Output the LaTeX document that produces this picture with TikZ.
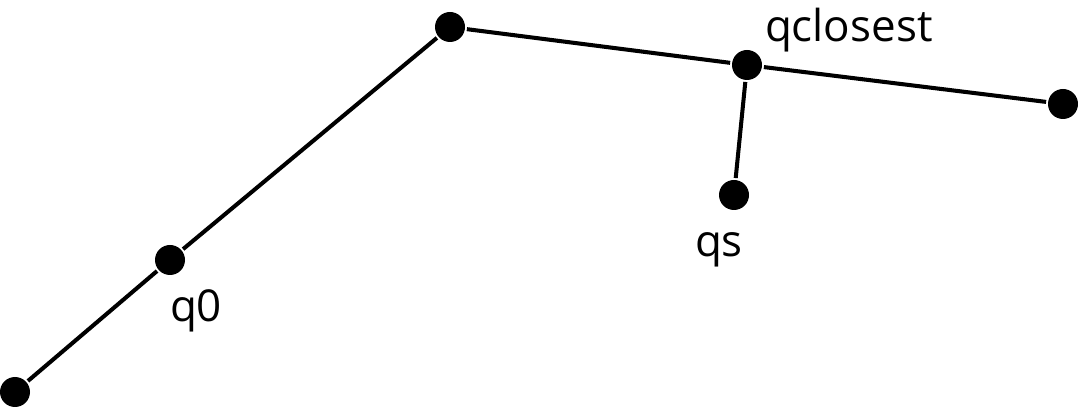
\documentclass[tikz,border=0pt]{standalone}
\usepackage{fontspec}
\setmainfont{Open Sans}
\usepackage{tikz}
\tikzset{dot/.style={circle, fill=black, inner sep=0pt, minimum size=0.6cm},
	lbl/.style={anchor=base west, inner sep=0pt, font=\fontsize{25}{30}\selectfont}}

\begin{document}
\begin{tikzpicture}[line width=2.3pt]
	\useasboundingbox (0,0) rectangle (21.56,8.14);
	
	\node[dot] (P) at (0.30,0.30) {};
	\node[dot] (Q0) at (3.40,2.94) {};
	\node[dot] (T) at (9.00,7.60) {};
	\node[dot] (QC) at (14.94,6.84) {};
	\node[dot] (E) at (21.26,6.06) {};
	\node[dot] (QS) at (14.68,4.24) {};
	
	\draw (P) -- (Q0);
	\draw (Q0) -- (T);
	\draw (T) -- (QC);
	\draw (QC) -- (E);
	\draw (QC) -- (QS);
	
	\node[lbl] (lq0) at (3.36,1.70) {q0};
	\node[lbl] (lqs) at (13.86,3.00) {qs};
	\node[lbl] (lqc) at (15.26,7.30) {qclosest};
\end{tikzpicture}
\end{document}
